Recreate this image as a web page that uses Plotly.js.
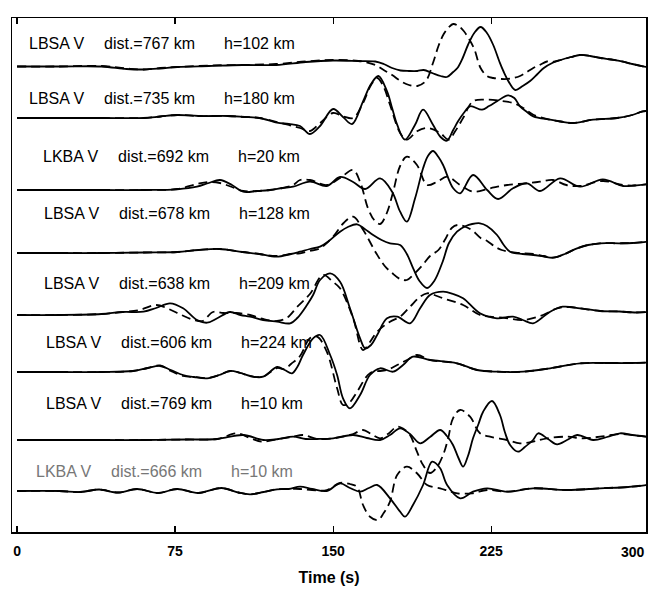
<!DOCTYPE html>
<html><head><meta charset="utf-8">
<script src="https://cdn.plot.ly/plotly-3.0.1.min.js"></script>
<style>html,body{margin:0;padding:0;background:#fff;} #chart{width:666px;height:590px;}</style>
</head><body><div id="chart"></div>
<script>
// ---- labels ----
const stations = ['LBSA V','LBSA V','LKBA V','LBSA V','LBSA V','LBSA V','LBSA V','LKBA V'];
const dists = ['dist.=767 km','dist.=735 km','dist.=692 km','dist.=678 km','dist.=638 km','dist.=606 km','dist.=769 km','dist.=666 km'];
const depths = ['h=102 km','h=180 km','h=20 km','h=128 km','h=209 km','h=224 km','h=10 km','h=10 km'];
const tickVals = [0, 75, 150, 225];
const tickLabels = ['0', '75', '150', '225'];
// trace baselines (vertical offsets of each seismogram)
const baselines = [468, 415, 344, 281, 217, 160, 92, 41];

// ---- trace 1: LBSA 767 ----
const t1s = [0,20,40,52,60,68,76,91,107,123,137,150,162,170,174,178,182,186,190,193,197,201,204,207,209,211.5,214,217,220,223,226,229,231,234,236.5,240,243.5,247,250,254,258,263,267,272,277,282,287,292,297,299];
const a1s = [-2.5,-2.5,-2.5,-5,-5.5,-4.5,-3,-2,-1,-1,2,3.5,3,2.5,0,-4,-6.5,-7,-7,-6,-9,-12,-13,-8,-4,6,19,31,37,31,19,2,-8,-20,-26,-22,-17,-10,-4,1,4,7,9,8,6,4.5,2.7,0,-2.3,-3];
const t1d = [0,20,40,52,60,68,76,91,107,123,137,150,162,170,174,178,182,186,190,194,197.4,200,202.5,205,207,209.5,212,214.5,217,220,223,226,230,234,238.7,242,245,248,251.5,254,258,263,267,272,277,282,287,292,297,299];
const a1d = [-2.5,-2.5,-2,-4.5,-5.5,-4,-3,-1.5,-1,0,2.5,4,3,-1,-6,-11,-17,-21,-22,-17,1,18,30,37,40,38,33,25,15,-4,-12,-14,-15,-14.7,-12,-8,-4,-1,2.5,2,4,7,9,8,6,4.5,2.7,0,-2.3,-3];

// ---- trace 2: LBSA 735 ----
const t2s = [0,20,40,60,68,76,86,100,108,115,123.4,129,134.3,139,143.8,150,154.7,159,164.2,168,171.5,175.6,178,180.4,184.1,188.9,192.7,197.4,201,204,207,209.3,212,215,220.7,224,227.8,233,236,238.7,242,245,253,258,263.9,273.4,284.8,292,297,299];
const a2s = [-1,-1,-1,-1,0.5,2,1,1,0,-1,-5.7,-7,-9,-17,-9,8,0,-7,15.7,33,41,25.7,9,-7.7,-22.7,-7.7,7.3,-7.7,-20,-23.7,-13,-4.3,4,10.7,7.3,11,15.7,21.7,19,10.7,5,0.7,-2.7,-4.5,-6,-2.7,-1,2,5.7,6];
const t2d = [0,20,40,60,68,76,86,100,108,115,123.4,129,134.3,139,143.8,150,154.7,159.5,164.2,168,171,174,177,181.8,185,189.8,194.6,200.8,204.8,208,211.7,216.4,223.1,229.2,235.4,240.2,245,253,258,263.9,273.4,284.8,292,297,299];
const a2d = [-1,-1,-1,-1,0.5,2,1,1,0,-1,-5,-8,-11,-14,-6,4,0.7,-1,14,32,39,30,12.3,-16,-22.7,-14.3,-11,-16,-22.7,-14,-1,15.7,17.3,16.3,14,9,2.3,-2.7,-4.5,-6,-2.7,-1,2,5.7,6];

// ---- trace 3: LKBA 692 ----
const t3s = [0,20,40,60,76,85.4,91,96.3,102,107.3,114,120,126,131,139,147,153.3,159.5,165.2,172.3,178,181.8,185,188.9,192.7,195,197.4,200,202.2,207,210.3,216.4,223.1,228.3,235.4,242,248.2,257.7,267.2,278,287.6,293,299];
const a3s = [-2,-2,-2,-2,-1.3,1.3,5,8,3,-3.7,-3,-2,0,1.3,6.3,2,11,6,-1,9.7,-3.7,-23.7,-33.7,-10.3,19.7,32,37,31,23,-0.3,-5.3,13,-2,-11,-0.3,4.7,-3,9.7,1.3,8.7,2,2.5,3.7];
const t3d = [0,20,40,60,76,85.4,91,96.3,102,107.3,114,120,126,131,134.3,139,147,153.3,159.5,163,166.5,169.5,172.3,175.5,178.5,181.8,185,189.8,194.6,199.4,204.1,210.3,216.4,224.5,232.6,242,248.2,254.4,260.7,267.2,278,287.6,293,299];
const a3d = [-2,-2,-2,-2,-1,4,6,5,1,-3,-3,-2,0,3,8,8,3,10,18,5,-20,-32,-36,-25,-3.7,22,31.3,23,3,6.3,11.3,3,-3.7,-0.3,3,4.7,6.3,8,3,2,7,3,2.5,3.7];

// ---- trace 4: LBSA 678 ----
const t4s = [0,20,40,60,76,86,96,107,115,123,130,134.3,139,143.8,148,153.3,157,161.4,165,169,173,177,181.8,185,188,191,194.6,198,202,205,208.8,213,216,219.7,223,227.8,231,234,240,245,250,254.4,260,265.8,271,276.7,286,292,299];
const a4s = [-2,-2,-2,-1.5,-1,1,2,-1,-3,-5.7,-3,-0.7,2,4.3,10,19.3,24,26.7,22,16,11,7.7,6,-3,-17.3,-30,-37,-30,-10.7,8,19.3,25,27,27.7,25,16,6,-0.7,-3,-4,-5.5,-6.7,-3,2.7,6,7.7,7.7,8,9.3];
const t4d = [0,20,40,60,76,86,96,107,115,123,130,134.3,139,143.8,150,155,159.5,164,170.4,174.5,178,181.8,185,188.9,192.5,196,200,203.3,206.3,209,213,216.4,220,223.1,227,230,234,238.7,245,250,254.4,260,265.8,271,276.7,286,292,299];
const a4d = [-2,-2,-2,-1.5,-1,1,2,-1,-3,-5,-3,-2.3,0,2.7,14.3,28,34.3,22,-2,-15,-22,-28,-29,-22,-14,-5,1,12,23,26,24,20,13,10,4,1,-1,-2,-3,-5,-6.7,-3,2.7,6,7.7,7.7,8,9.3];

// ---- trace 5: LBSA 638 ----
const t5s = [0,20,40,50,60,66,72.6,78.8,85.4,90.2,95,101,106,110.6,116.8,123.4,129.6,133,137.6,140.5,143.8,148.6,153.3,158,162.8,165.2,168,170.9,175.6,180.4,186.5,191.3,196,202.2,207,211.7,219.7,227.8,235.4,240,244.9,249,253,259,267.2,276.7,286,293,299];
const a5s = [0,0,1,3,3.3,7,11.7,6.7,-5,-7.7,-3.3,3,0,-1.7,-5,-6.7,-8.3,-3,10,20,35,41.7,33.3,6.7,-23.3,-33.3,-30,-20,-3.3,-1.7,-8.3,6.7,20,23.3,21,16.7,1.7,-3.3,-1.7,-5,-8.3,-3,3.3,8.3,6.7,4,3.5,2.5,3];
const t5d = [0,20,40,50,58,66,72,78,84,88,93,98,104,110.6,116.8,123.4,128,132.9,139,145.2,150,153.3,159.5,164.2,167.5,170.9,177,181.8,186.5,191.3,194.6,198,202.2,211.7,219.7,224.5,232,240.2,249.6,256.3,262,267.2,276.7,286,293,299];
const a5d = [0,0,1,3,5,10,6,0,-5,-6,3,2,2,0,-4,-6,-3,8,21,40,33,26.7,-3.3,-35,-27,-16.7,-6.7,-1.7,8.3,18.3,21.7,20,16.7,10,0,-1.7,-3,-5,0,6.7,8,6.7,4,3.5,2.5,3];

// ---- trace 6: LBSA 606 ----
const t6s = [0,20,40,55,62,67.9,73,78.8,84,90.2,96,101.1,106,112,116.8,123.4,127,130.5,133,135.7,140.5,143.8,148.6,151.9,154.7,158,162.8,167.5,172.3,178.5,183.2,187.9,196,208.8,218.3,227.8,240.2,253,267.2,280,290,299];
const a6s = [0,0,0,1,4,6,2,-3,-5,-6.3,-3,1,-1,-4.7,-4.7,5,2,-1.3,5,17,33.7,37,17,-3,-26.3,-36.3,-23,-3,3.7,0.3,7,15.3,12,8.7,2,0.3,0.3,3.7,8.7,9,9,9.5];
const t6d = [0,20,40,55,62,67.9,73,78.8,84,90.2,96,101.1,106,112,116.8,123.4,127,130,134.3,139,142.4,147,151.9,154.7,158,161.4,167.5,175.6,180.4,185.1,189.8,196,208.8,218.3,227.8,240.2,253,267.2,280,290,299];
const a6d = [0,0,0,1,4,6.5,1,-4,-5,-6,-3,1,-1,-4.7,-4.5,4,3,8,16,33.7,35.3,20.3,-16.3,-33,-30,-19.7,-1.3,2,7,12,17,12,8.7,2,0.3,0.3,3.7,8.7,9,9,9.5];

// ---- trace 7: LBSA 769 ----
const t7s = [0,20,40,60,80,95,107.3,116.8,124,131,137,142.4,150,159.5,166,172.3,177,181.8,186.5,191.3,196,200.8,204,206.9,209.5,211.7,214,216.4,219,221.2,225.4,229.2,231.5,234,237.8,241,244.9,247.3,252,256.3,261,265.8,273.4,280,286.2,292,299];
const a7s = [0,0,0,0,0.5,1,5,0,1,3.3,1,1,1.7,5,2,0,5,11.7,6,-3.3,3,10,4,-5,-18,-26.7,-16,1.7,16,28.3,39,25,8,-5,-11.7,-7,0,6.7,1,-4.3,0,5,0,3,6.7,5,3.3];
const t7d = [0,20,40,60,80,95,104.4,110.6,116,124,131,135.7,142.4,150,154.7,159.5,164.2,168,172.3,176,180.4,183.5,186.5,189.8,192.7,196,199,202.2,204.6,206.9,210.3,215,219.7,224.5,232.6,238.7,244.9,251.5,261,268.6,276.7,286.2,292,299];
const a7d = [0,0,0,0,0.5,1,6.7,2,-1.7,1,3.3,5,1,1.7,3.3,6,10,6,1.7,6,13.3,11,5,-11.7,-25,-33,-28,-15,1.7,21.7,30,23.3,6.7,3.3,0,-3.3,-1.7,1.7,3.3,1.7,3.3,6,5,3.3];

// ---- trace 8: LKBA 666 ----
const t8s = [0,20,30,39,48,57,67,76,86,97,105,110.6,117,123.4,129,134.3,140,147,153.3,158,162.8,167,170.9,177,181.8,184.1,187.9,192.7,197,200.8,204.1,210.3,216.4,223.1,232.6,244.9,261,276.7,290,299];
const a8s = [0,0,-1,1.5,-1.5,2,-2,2,-2,3,-1.5,-3.3,-1,1.7,2,4.3,2,0,7.7,3,-0.7,3,6,-7.3,-20.7,-25.7,-14,6,29.3,22.7,6,-7.3,-0.7,2.7,-0.7,2.7,1,2.7,4,6];
const t8d = [0,20,30,39,48,57,67,76,86,97,105,110.6,117,123.4,129,134.3,140,147,153.3,158,161.4,164.2,167.5,171.3,174,177,180.4,185,189.8,194.6,200.8,205,209,216,223.1,232.6,244.9,261,276.7,290,299];
const a8d = [0,0,-1,1.5,-1.5,2,-2,2,-2,3,-1.5,-3.3,-1,1.7,2,2,1,1,8,7,4,-14,-25.7,-29,-22,-10.7,16,24.3,17.7,6,2.7,0,-2.3,-2.3,1,-0.7,2.7,1,2.7,4,6];

// label anchor positions in figure pixels
const labelX = [28, 28, 42, 43, 43, 45, 45, 35];
const labelY = [43, 98, 156, 213, 284, 342, 403, 471];
const labelColor = ['#000','#000','#000','#000','#000','#000','#000','#777'];

const solidT = [t1s,t2s,t3s,t4s,t5s,t6s,t7s,t8s];
const solidA = [a1s,a2s,a3s,a4s,a5s,a6s,a7s,a8s];
const dashT = [t1d,t2d,t3d,t4d,t5d,t6d,t7d,t8d];
const dashA = [a1d,a2d,a3d,a4d,a5d,a6d,a7d,a8d];

const data = [];
for (let i = 0; i < 8; i++) {
  data.push({x: dashT[i], y: dashA[i].map(a => baselines[i] + a), mode: 'lines', type: 'scatter',
    line: {color: '#000', width: 1.8, dash: '9px,5px', shape: 'spline', smoothing: 1},
    hoverinfo: 'skip', showlegend: false});
  data.push({x: solidT[i], y: solidA[i].map(a => baselines[i] + a), mode: 'lines', type: 'scatter',
    line: {color: '#000', width: 1.8, shape: 'spline', smoothing: 1},
    hoverinfo: 'skip', showlegend: false});
}

const W = 666, H = 590, L = 12, R = 646, T = 18, B = 532;
const px = x => (x - L) / (R - L);
const py = y => (B - y) / (B - T);
const fam = '"Liberation Sans", Arial, Helvetica, sans-serif';
const annotations = [];
for (let i = 0; i < 8; i++) {
  const parts = [[stations[i], 0], [dists[i], 75], [depths[i], 195]];
  parts.forEach(([txt, dx]) => {
    annotations.push({xref: 'paper', yref: 'paper', x: px(labelX[i] + dx), y: py(labelY[i]),
      xanchor: 'left', yanchor: 'middle', text: txt, showarrow: false, borderpad: 0,
      font: {family: fam, size: 16, color: labelColor[i]}});
  });
}
annotations.push({xref: 'paper', yref: 'paper', x: 1, y: 0, xanchor: 'right', yanchor: 'top',
  yshift: -11, text: '300', showarrow: false, borderpad: 0,
  font: {family: fam, size: 14, color: '#000', weight: 'bold'}});

const layout = {
  width: W, height: H,
  margin: {l: L, r: W - R, t: T, b: H - B},
  paper_bgcolor: '#fff', plot_bgcolor: '#fff',
  showlegend: false,
  xaxis: {range: [-2.4, 298.5], tickvals: tickVals, ticktext: tickLabels,
    ticks: 'inside', ticklen: 6, tickwidth: 1.2, tickcolor: '#000',
    showline: true, linecolor: '#000', linewidth: 1.5, mirror: 'ticks',
    showgrid: false, zeroline: false, ticklabelstandoff: 6,
    tickfont: {family: fam, size: 14, color: '#000', weight: 'bold'},
    title: {text: 'Time (s)', font: {family: fam, size: 16, color: '#000', weight: 'bold'}, standoff: 13}},
  yaxis: {range: [0, B - T], showline: true, linecolor: '#000', linewidth: 1.5, mirror: true,
    showticklabels: false, ticks: '', showgrid: false, zeroline: false},
  annotations: annotations
};
Plotly.newPlot('chart', data, layout, {staticPlot: true, displayModeBar: false});
</script>
</body></html>
